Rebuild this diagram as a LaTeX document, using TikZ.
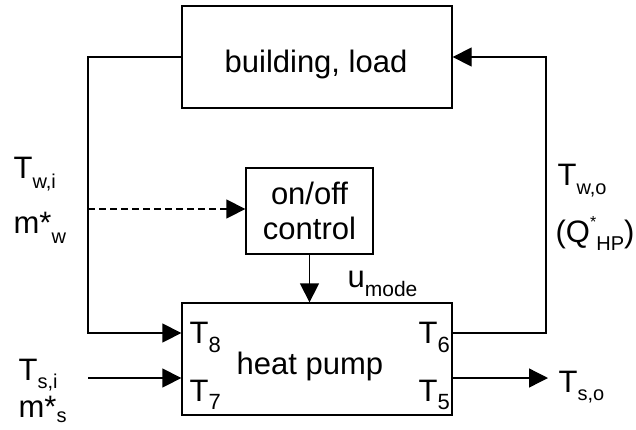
\documentclass[tikz,border=0pt]{standalone}
\usepackage{fontspec}
\setmainfont{Liberation Sans}
\usetikzlibrary{arrows.meta}
\newcommand\lo[3][20]{\raisebox{-#2pt}{\fontsize{#1}{#1}\selectfont #3}}
\begin{document}
\begin{tikzpicture}[x=1pt,y=-1pt,line width=1.3pt,
  font=\fontsize{31}{35}\selectfont,
  box/.style={draw,inner sep=0pt},
  lbl/.style={inner sep=0pt,anchor=base west},
  ctr/.style={inner sep=0pt,anchor=base},
  arr/.style={-{Triangle[length=19pt,width=19pt]}},
  dsh/.style={dash pattern=on 7pt off 4pt}]
\useasboundingbox (0,0) rectangle (636,429);
% boxes
\node[box,minimum width=270pt,minimum height=102pt] (bld) at (317,57) {};
\node[ctr] (bldtxt) at (316,72) {building, load};
\node[box,minimum width=127pt,minimum height=86pt,align=center] (ctl) at (309.5,211) {on/off\\control};
\node[box,minimum width=270pt,minimum height=112pt] (hp) at (317,359) {};
\node[lbl] (hptxt) at (236,374) {heat pump};
\node[lbl] (t8) at (189,343) {T\lo[22]{9}{8}};
\node[lbl] (t7) at (189,401) {T\lo[22]{8}{7}};
\node[lbl] (t6) at (418,343) {T\lo[22]{9}{6}};
\node[lbl] (t5) at (418,401) {T\lo[22]{8}{5}};
% outside labels
\node[lbl] (twi) at (13,178) {T\lo[20]{10}{w,i}};
\node[lbl] (mw) at (13,233) {m*\lo[20]{10}{w}};
\node[lbl] (tsi) at (18,380) {T\lo[20]{8}{s,i}};
\node[lbl] (ms) at (18,417) {m*\lo[20]{5}{s}};
\node[lbl] (two) at (557,185) {T\lo[20]{9}{w,o}};
\node[lbl] (qhp) at (555,242) {(Q\raisebox{15pt}{\fontsize{16}{16}\selectfont *}\lo[20]{8}{HP})};
\node[lbl] (tso) at (558,392) {T\lo[20]{8}{s,o}};
\node[lbl] (um) at (347,287) {u\lo[21]{9}{mode}};
% connector coordinates
\coordinate (lb) at (88,333);
\coordinate (rb) at (546,333);
\coordinate (dl) at (88,209);
\coordinate (si) at (88,378);
\coordinate (so) at (548,378);
% connectors
\draw[arr] (bld.west) -| (lb) -- (hp.west |- lb);
\draw[arr] (hp.east |- rb) -- (rb) |- (bld.east);
\draw[arr,dsh] (dl) -- (ctl.west |- dl);
\draw[arr] (ctl.south) -- (ctl.south |- hp.north);
\draw[arr] (si) -- (hp.west |- si);
\draw[arr] (hp.east |- so) -- (so);
\end{tikzpicture}
\end{document}
